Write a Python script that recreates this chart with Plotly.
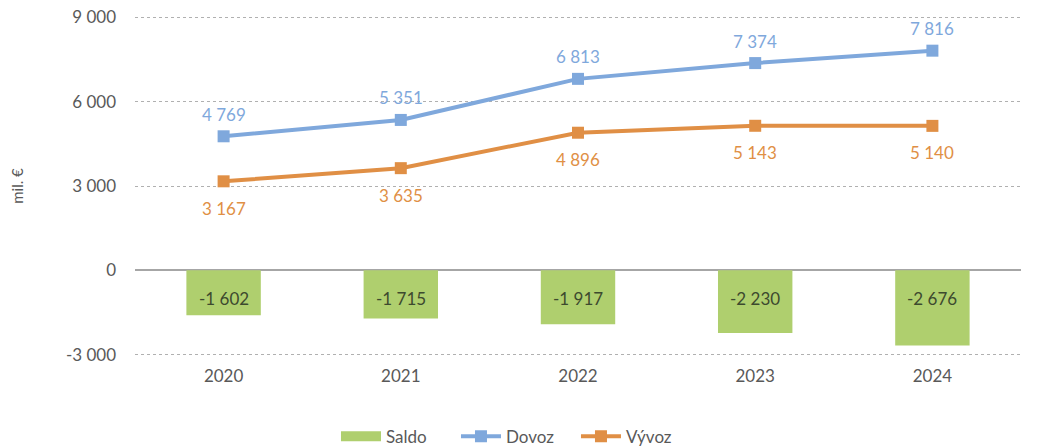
import plotly.graph_objects as go

years = ["2020", "2021", "2022", "2023", "2024"]
saldo = [-1602, -1715, -1917, -2230, -2676]
dovoz = [4769, 5351, 6813, 7374, 7816]
vyvoz = [3167, 3635, 4896, 5143, 5140]
y_ticks = [-3000, 0, 3000, 6000, 9000]

def fmt(v):
    s = f"{abs(v):,}".replace(",", " ")
    return ("-" if v < 0 else "") + s

FONT = "Lato, 'Open Sans', sans-serif"
GREEN = "#afcf6e"
BLUE = "#7fa8dc"
ORANGE = "#e08f45"
GRAY = "#595959"

fig = go.Figure()
fig.add_trace(go.Bar(
    x=years, y=saldo, name="Saldo", marker=dict(color=GREEN, line=dict(width=0)),
    width=0.42, showlegend=False, legendgroup="saldo",
))
# legend entry for Saldo drawn as a wide swatch
fig.add_trace(go.Scatter(
    x=[years[0]], y=[None], name="Saldo", mode="lines", legendgroup="saldo",
    line=dict(color=GREEN, width=10),
))
fig.add_trace(go.Scatter(
    x=years, y=dovoz, name="Dovoz", mode="lines+markers",
    line=dict(color=BLUE, width=4), marker=dict(symbol="square", size=12, color=BLUE),
))
fig.add_trace(go.Scatter(
    x=years, y=vyvoz, name="Vývoz", mode="lines+markers",
    line=dict(color=ORANGE, width=4), marker=dict(symbol="square", size=12, color=ORANGE),
))

# annotations placed by category index on the category axis
for i, v in enumerate(dovoz):
    fig.add_annotation(x=i, y=v, text=fmt(v), showarrow=False, yshift=22,
                       font=dict(color=BLUE, size=17, family=FONT))
for i, v in enumerate(vyvoz):
    fig.add_annotation(x=i, y=v, text=fmt(v), showarrow=False, yshift=-27,
                       font=dict(color=ORANGE, size=17, family=FONT))
for i, v in enumerate(saldo):
    fig.add_annotation(x=i, y=0, text=fmt(v), showarrow=False, yshift=-28,
                       font=dict(color="#3d4a2e", size=17, family=FONT))

fig.update_layout(
    width=1041, height=446,
    margin=dict(l=135, r=20, t=16, b=90, autoexpand=False),
    paper_bgcolor="white", plot_bgcolor="white",
    font=dict(family=FONT, color=GRAY, size=17),
    showlegend=True,
    legend=dict(orientation="h", x=0.43, xanchor="center", y=-0.29, yanchor="bottom",
                font=dict(size=17, color=GRAY), traceorder="normal",
                itemwidth=40, entrywidth=65),
    bargap=0.58,
    xaxis=dict(type="category", categoryorder="array", categoryarray=years,
               range=[-0.5, len(years) - 0.5],
               showgrid=False, zeroline=False, showline=False, ticks="",
               tickfont=dict(size=17, color=GRAY), ticklabelstandoff=8),
    yaxis=dict(range=[-3050, 9050], tickvals=y_ticks, ticktext=[fmt(v) for v in y_ticks],
               showgrid=True, gridcolor="#b0b0b0", griddash="dot", gridwidth=1,
               zeroline=True, zerolinecolor="#a6a6a6", zerolinewidth=2,
               showline=False, ticks="", ticklabelstandoff=18,
               tickfont=dict(size=17, color=GRAY),
               title=dict(text="mil. €", font=dict(size=15, color=GRAY), standoff=38)),
)

fig.write_html("out.html", config={"displayModeBar": False},
               post_script="document.body.style.margin='0';document.body.style.overflow='hidden';")
